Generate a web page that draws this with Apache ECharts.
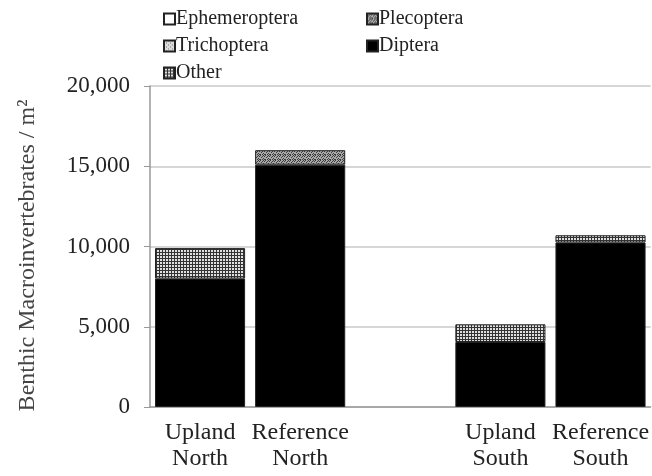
<!DOCTYPE html>
<html>
<head>
<meta charset="utf-8">
<script src="https://cdn.jsdelivr.net/npm/echarts@6/dist/echarts.min.js"></script>
<style>
    html, body { margin: 0; padding: 0; background: #fff; }
    #main { width: 652px; height: 476px; }
</style>
</head>
<body>
<div id="main"></div>
<script>
    // 分类 (middle one is an empty spacer between North and South)
    var categories = ['Upland\nNorth', 'Reference\nNorth', '', 'Upland\nSouth', 'Reference\nSouth'];
    // values per m2
    var ephemeroptera = [0, 0, 0, 0, 0];
    var plecoptera = [0, 900, 0, 0, 0];
    var trichoptera = [0, 0, 0, 0, 0];
    var diptera = [8000, 15100, 0, 4050, 10250];
    var other = [1900, 0, 0, 1100, 450];
    var yTicks = [0, 5000, 10000, 15000, 20000];

    // small canvas fills to imitate the print patterns
    function makePattern(size, draw) {
        var c = document.createElement('canvas');
        c.width = size;
        c.height = size;
        var ctx = c.getContext('2d');
        draw(ctx);
        return { image: c, repeat: 'repeat' };
    }
    var gridFill = makePattern(3, function (ctx) {
        ctx.fillStyle = '#e0e0e0';
        ctx.fillRect(0, 0, 3, 3);
        ctx.fillStyle = '#333';
        ctx.fillRect(0, 0, 3, 1);
        ctx.fillRect(0, 0, 1, 3);
    });
    var stippleFill = makePattern(5, function (ctx) {
        var dots = [[0, 0], [2, 1], [4, 1], [1, 2], [3, 3], [0, 4], [4, 4], [2, 4], [3, 0]];
        ctx.fillStyle = '#a8a8a8';
        ctx.fillRect(0, 0, 5, 5);
        ctx.fillStyle = '#3a3a3a';
        for (var i = 0; i < dots.length; i++) {
            ctx.fillRect(dots[i][0], dots[i][1], 1, 1);
        }
    });
    var lightStipple = makePattern(4, function (ctx) {
        ctx.fillStyle = '#ddd';
        ctx.fillRect(0, 0, 4, 4);
        ctx.fillStyle = '#777';
        ctx.fillRect(0, 0, 1, 1);
        ctx.fillRect(2, 2, 1, 1);
    });

    function clean(arr) {
        return arr.map(function (v) { return v ? v : null; });
    }

    var font = '"Liberation Serif", "DejaVu Serif", serif';

    function bar(name, data, fill) {
        return {
            name: name,
            type: 'bar',
            stack: 'total',
            barCategoryGap: '10%',
            data: clean(data),
            itemStyle: { color: fill, borderColor: '#222', borderWidth: 1 }
        };
    }

    function legendAt(left, names) {
        return {
            orient: 'vertical',
            left: left,
            top: 4,
            itemWidth: 11,
            itemHeight: 11,
            itemGap: 7,
            icon: 'rect',
            textStyle: { fontFamily: font, fontSize: 20, color: '#222', padding: [0, 0, 0, -4] },
            data: names
        };
    }

    var myChart = echarts.init(document.getElementById('main'));
    var option = {
        backgroundColor: '#fff',
        animation: false,
        textStyle: { fontFamily: font },
        legend: [
            legendAt(158, ['Ephemeroptera', 'Trichoptera', 'Other']),
            legendAt(361, ['Plecoptera', 'Diptera'])
        ],
        grid: { left: 150, right: 0, top: 86, bottom: 69, containLabel: false },
        xAxis: {
            type: 'category',
            data: categories,
            axisTick: { show: false },
            axisLine: { lineStyle: { color: '#999', width: 1.5 } },
            axisLabel: { fontFamily: font, fontSize: 24, color: '#222', lineHeight: 26, margin: 13, interval: 0 }
        },
        yAxis: {
            type: 'value',
            min: yTicks[0],
            max: yTicks[yTicks.length - 1],
            interval: yTicks[1] - yTicks[0],
            name: 'Benthic Macroinvertebrates / m\u00b2',
            nameLocation: 'middle',
            nameGap: 110,
            nameTextStyle: { fontFamily: font, fontSize: 24, color: '#444', padding: [0, 18, 0, 0] },
            axisLine: { show: true, lineStyle: { color: '#999', width: 1.5 } },
            axisTick: { show: true, length: 6, lineStyle: { color: '#999' } },
            axisLabel: {
                fontFamily: font, fontSize: 23, color: '#222', margin: 20,
                formatter: function (v) { return v.toLocaleString('en-US'); }
            },
            splitLine: { lineStyle: { color: '#c8c8c8', width: 1.5 } }
        },
        series: [
            bar('Diptera', diptera, '#000'),
            bar('Trichoptera', trichoptera, lightStipple),
            bar('Plecoptera', plecoptera, stippleFill),
            bar('Other', other, gridFill),
            bar('Ephemeroptera', ephemeroptera, '#fff')
        ]
    };
    myChart.setOption(option);
</script>
</body>
</html>
